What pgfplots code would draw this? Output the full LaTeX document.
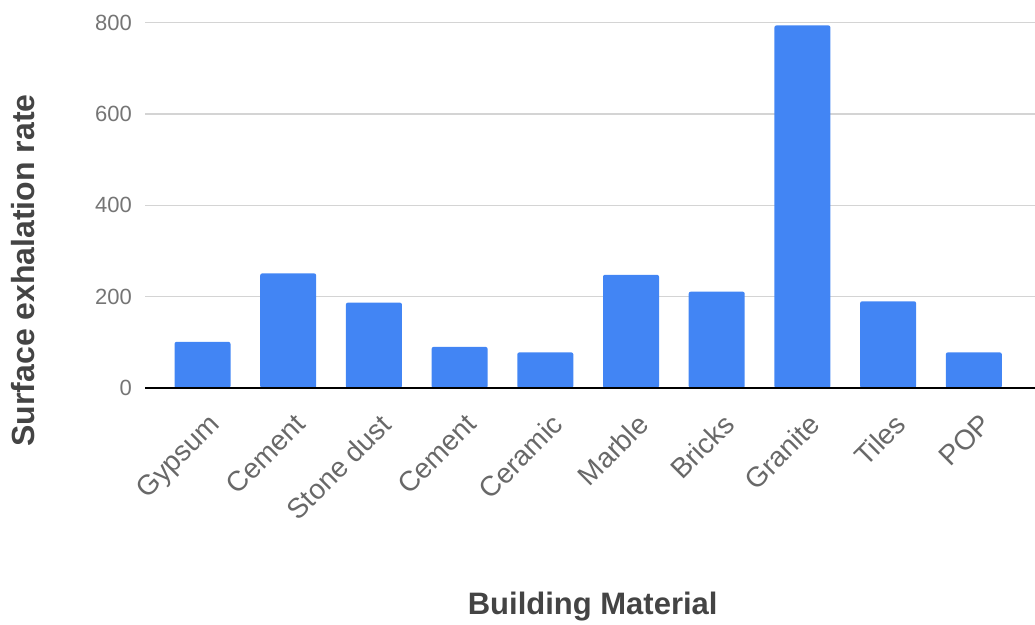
\documentclass[border=0pt]{standalone}
\usepackage{pgfplots}
\pgfplotsset{compat=1.18}
\usepackage{fontspec}
\setmainfont{Liberation Sans}

\definecolor{barblue}{HTML}{4285F4}
\definecolor{gridgray}{HTML}{D4D4D4}
\definecolor{ticktext}{HTML}{757575}
\definecolor{catText}{HTML}{686868}
\definecolor{labeltext}{HTML}{444444}
\definecolor{baseline}{HTML}{333333}

\begin{document}
\begin{tikzpicture}
\useasboundingbox (0,0) rectangle (1035pt,-624pt);
\begin{axis}[
  at={(145pt,-388pt)}, anchor=south west,
  scale only axis,
  width=890pt, height=365.3pt,
  xmin=-0.671, xmax=9.714,
  ymin=0, ymax=800,
  ytick={0,200,400,600,800},
  xtick={0,...,9},
  xticklabels={Gypsum,Cement,Stone dust,Cement,Ceramic,Marble,Bricks,Granite,Tiles,POP},
  axis line style={draw=none},
  major tick length=0pt,
  ymajorgrids,
  grid style={gridgray, line width=1.2pt},
  /pgf/number format/assume math mode=true,
  yticklabel style={font=\fontsize{22}{26}\selectfont, text=ticktext,
    anchor=east, inner sep=0pt, xshift=-13pt},
  xticklabel style={font=\fontsize{28}{33}\selectfont, text=catText,
    inner sep=0pt, xshift=5pt, yshift=-24pt, rotate=45, anchor=north east},
  ylabel={Surface exhalation rate},
  ylabel style={font=\fontsize{32}{38}\selectfont\bfseries, text=labeltext,
    at={(axis description cs:-0.1365,0.3217)}, anchor=center},
  xlabel={Building Material},
  xlabel style={font=\fontsize{31}{37}\selectfont\bfseries, text=labeltext,
    at={(axis description cs:0.503,-0.597)}, anchor=center},
]
\addplot[ybar, bar width=56pt, fill=barblue, draw=none, rounded corners=2pt]
  coordinates {(0,101) (1,251) (2,187) (3,90) (4,78) (5,248) (6,211) (7,794) (8,190) (9,78)};
\draw[baseline, line width=1.6pt] (rel axis cs:0,0) -- (rel axis cs:1,0);
\end{axis}
\end{tikzpicture}
\end{document}
